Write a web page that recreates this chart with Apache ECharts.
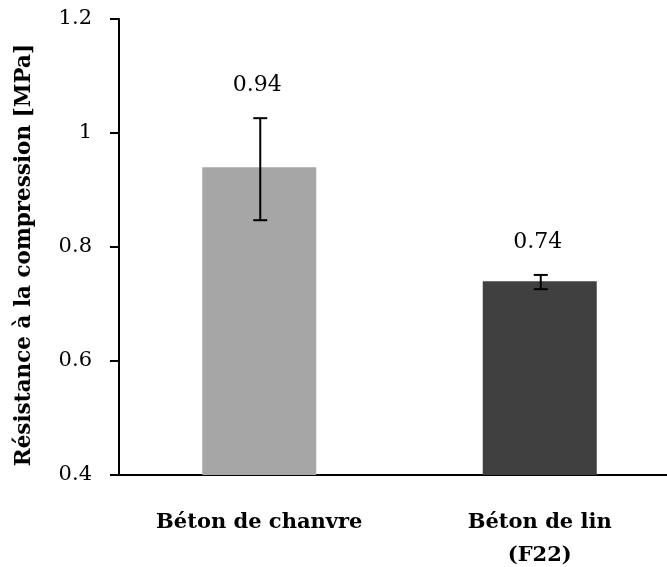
<!DOCTYPE html>
<html>
<head>
<meta charset="utf-8">
<script src="https://cdn.jsdelivr.net/npm/echarts@6/dist/echarts.min.js"></script>
<style>
  html, body { margin: 0; padding: 0; background: #fff; }
  #chart { width: 667px; height: 567px; }
</style>
</head>
<body>
<div id="chart"></div>
<script>
// donnees
const categories = ['Béton de chanvre', 'Béton de lin\n(F22)'];
const moyennes = [0.94, 0.74];
const errBas = [0.847, 0.726];
const errHaut = [1.026, 0.751];
const barColors = ['#a6a6a6', '#404040'];

const FONT = 'DejaVu Serif';

var chart = echarts.init(document.getElementById('chart'));

var option = {
  animation: false,
  grid: { left: 119, right: -13, top: 19, bottom: 92, outerBoundsMode: 'none', containLabel: false },
  xAxis: {
    type: 'category',
    data: categories,
    axisLine: { lineStyle: { color: '#000', width: 2 } },
    axisTick: { show: false },
    axisLabel: {
      margin: 31,
      fontFamily: FONT,
      fontWeight: 'bold',
      fontSize: 21,
      color: '#000',
      lineHeight: 33
    }
  },
  yAxis: {
    type: 'value',
    min: 0.4,
    max: 1.2,
    interval: 0.2,
    name: 'Résistance à la compression [MPa]',
    nameLocation: 'middle',
    nameGap: 84,
    nameTextStyle: {
      fontFamily: FONT, fontWeight: 'bold', fontSize: 21.5, color: '#000',
      padding: [0, 16, 0, 0]
    },
    axisLine: { show: true, lineStyle: { color: '#000', width: 2 } },
    axisTick: { show: true, length: 9, lineStyle: { color: '#000', width: 2 } },
    splitLine: { show: false },
    axisLabel: {
      margin: 27,
      fontFamily: FONT,
      fontSize: 21,
      color: '#000',
      formatter: function (v) { return String(+v.toFixed(1)); }
    }
  },
  series: [
    {
      type: 'bar',
      barWidth: 114,
      data: moyennes.map(function (v, i) {
        return { value: v, itemStyle: { color: barColors[i] } };
      })
    },
    {
      type: 'custom',
      z: 10,
      data: moyennes.map(function (v, i) { return [i, errBas[i], errHaut[i], v]; }),
      renderItem: function (params, api) {
        var x = api.coord([api.value(0), 0])[0] + 1;
        var lo = api.coord([api.value(0), api.value(1)])[1];
        var hi = api.coord([api.value(0), api.value(2)])[1];
        var cap = 7;
        var st = { stroke: '#000', lineWidth: 2 };
        return {
          type: 'group',
          children: [
            { type: 'line', shape: { x1: x, y1: lo, x2: x, y2: hi }, style: st },
            { type: 'line', shape: { x1: x - cap, y1: lo, x2: x + cap, y2: lo }, style: st },
            { type: 'line', shape: { x1: x - cap, y1: hi, x2: x + cap, y2: hi }, style: st },
            {
              type: 'text',
              x: x - 3,
              y: hi - 33,
              style: {
                text: api.value(3).toFixed(2),
                fontFamily: FONT,
                fontSize: 22,
                fill: '#000',
                align: 'center',
                verticalAlign: 'middle'
              }
            }
          ]
        };
      }
    }
  ]
};

chart.setOption(option);
</script>
</body>
</html>
